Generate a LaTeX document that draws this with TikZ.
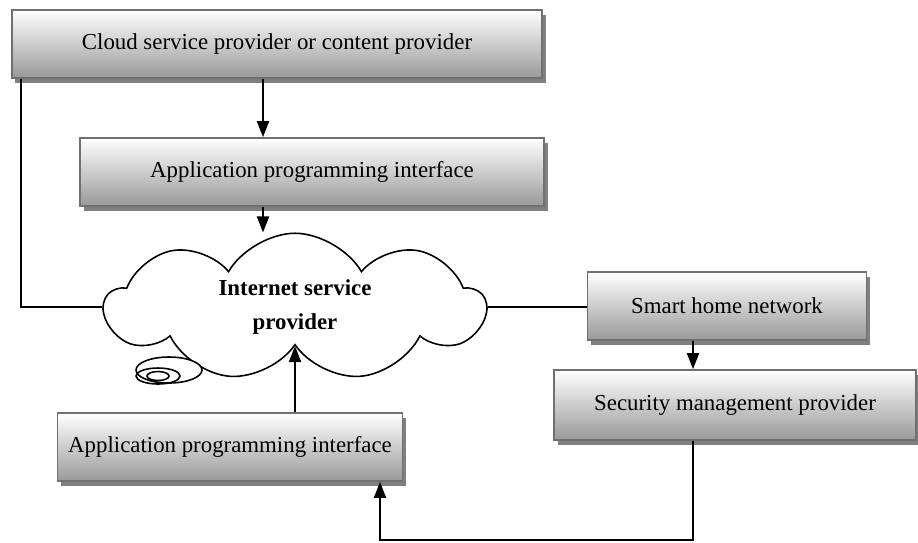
\documentclass[tikz,border=0pt]{standalone}
\usepackage{fontspec}
\setmainfont{Liberation Serif}
\usetikzlibrary{shapes.symbols, shadows, arrows.meta}

\definecolor{boxedge}{RGB}{112,112,112}
\definecolor{boxshadow}{RGB}{128,128,128}

\begin{document}
\begin{tikzpicture}[
    box/.style={draw=boxedge, line width=1pt, top color=white, bottom color=gray!80, drop shadow={shadow xshift=0.07cm, shadow yshift=-0.1cm, fill=boxshadow, opacity=1}, minimum width=#1, minimum height=1.36cm, inner sep=0pt, font=\fontsize{13}{15}\selectfont},
    ispcloud/.style={cloud, draw, line width=0.9pt, fill=white, cloud puffs=9, cloud puff arc=120, aspect=2.6, minimum width=7.6cm, minimum height=2.95cm, align=center, font=\fontsize{13}{19}\selectfont\bfseries},
    arrow/.style={-{Triangle[length=0.32cm, width=0.24cm]}, line width=1.1pt},
    line/.style={line width=1.1pt}
]
    \useasboundingbox (0,0) rectangle (18.36,-10.84);

    % Boxes
    \node[box=10.6cm] (csp) at (5.54,-0.88) {Cloud service provider or content provider};
    \node[box=9.28cm] (apitop) at (6.24,-3.44) {Application programming interface};
    \node[box=5.58cm] (shn) at (14.54,-6.12) {Smart home network};
    \node[box=7.24cm, minimum height=1.4cm] (smp) at (14.7,-8.1) {Security management provider};
    \node[box=6.9cm] (apibot) at (4.6,-8.94) {Application programming interface};

    % Cloud
    \node[ispcloud] (isp) at (5.9,-6.14) {Internet service\\provider};
    \draw[line width=0.9pt, fill=white] (3.38,-7.4) ellipse (0.66 and 0.26);
    \draw[line width=0.9pt] (3.16,-7.52) ellipse (0.44 and 0.16);
    \draw[line width=0.9pt] (3.16,-7.52) ellipse (0.22 and 0.09);

    % Connections
    \draw[arrow] ([xshift=-0.28cm]csp.south) -- ([xshift=-0.28cm]csp.south |- apitop.north);
    \draw[arrow] ([xshift=-0.98cm]apitop.south) -- ([xshift=-0.98cm]apitop.south |- isp.north);
    \draw[line] ([xshift=0.2cm]csp.south west) |- (isp.west);
    \draw[line] (isp.east) -- (isp.east -| shn.west);
    \draw[arrow] ([xshift=-0.68cm]shn.south) -- ([xshift=-0.68cm]shn.south |- smp.north);
    \coordinate (loop) at (7.6,-10.8);
    \draw[arrow] ([xshift=-0.84cm]smp.south) |- (loop) -- (loop |- apibot.south);
    \draw[arrow] (apibot.north -| isp.south) -- (isp.south);

\end{tikzpicture}
\end{document}
